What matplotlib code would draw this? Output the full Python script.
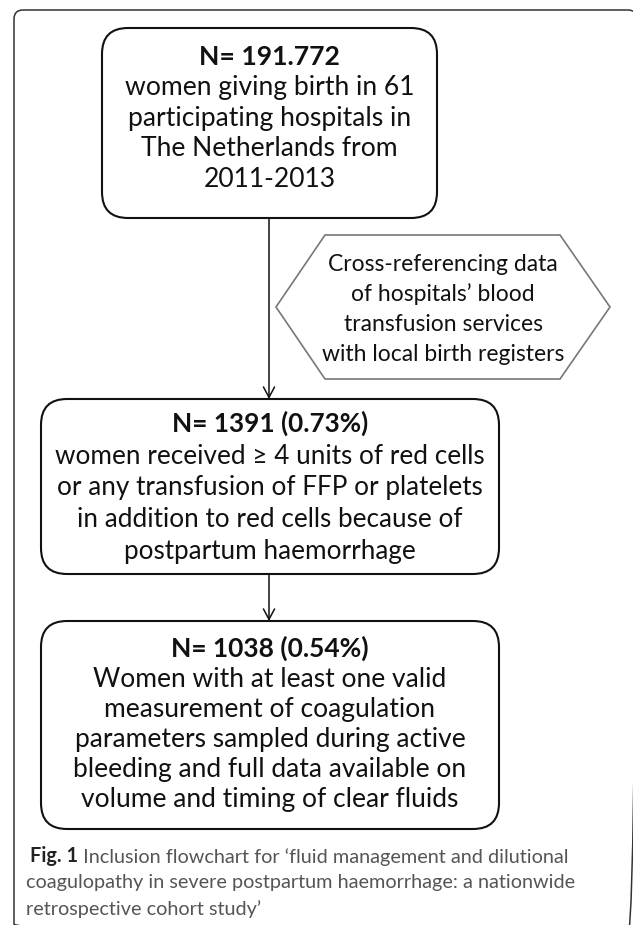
import matplotlib
matplotlib.use("Agg")
import matplotlib.pyplot as plt
from matplotlib.patches import FancyBboxPatch, Polygon, FancyArrowPatch

# ---- content ----
box1_title = "N= 191.772"
box1_lines = ["women giving birth in 61", "participating hospitals in",
              "The Netherlands from", "2011-2013"]
box2_title = "N= 1391 (0.73%)"
box2_lines = ["women received \u2265 4 units of red cells",
              "or any transfusion of FFP or platelets",
              "in addition to red cells because of",
              "postpartum haemorrhage"]
box3_title = "N= 1038 (0.54%)"
box3_lines = ["Women with at least one valid",
              "measurement of coagulation",
              "parameters sampled during active",
              "bleeding and full data available on",
              "volume and timing of clear fluids"]
hex_lines = ["Cross-referencing data", "of hospitals\u2019 blood",
             "transfusion services", "with local birth registers"]
caption_bold = "Fig. 1"
caption_lines = ["Inclusion flowchart for \u2018fluid management and dilutional",
                 "coagulopathy in severe postpartum haemorrhage: a nationwide",
                 "retrospective cohort study\u2019"]

W, H = 633, 925
FONT = "Lato"
fig = plt.figure(figsize=(W / 100, H / 100), dpi=100)
ax = fig.add_axes([0, 0, 1, 1])
ax.set_xlim(0, W)
ax.set_ylim(H, 0)
ax.axis("off")
renderer = fig.canvas.get_renderer()


def fit_size(text, target_px, weight="normal", family=FONT):
    t = ax.text(0, 0, text, fontsize=10, fontweight=weight, family=family)
    w = t.get_window_extent(renderer).width
    t.remove()
    return 10 * target_px / w


# outer frame (right and bottom sides run just past the image edge)
frame = FancyBboxPatch((14, 10), 623, 923, boxstyle="round,pad=0,rounding_size=9",
                       fc="none", ec="#333333", lw=1.1)
ax.add_patch(frame)


def rbox(x0, y0, x1, y1, title, lines, first_base, step, widest_px):
    ax.add_patch(FancyBboxPatch((x0, y0), x1 - x0, y1 - y0,
                                boxstyle="round,pad=0,rounding_size=26",
                                fc="white", ec="#111111", lw=1.5))
    cx = (x0 + x1) / 2
    widest = max(lines, key=len)
    fs = fit_size(widest, widest_px)
    ax.text(cx, first_base, title, ha="center", va="baseline", fontsize=fs,
            fontweight="bold", family=FONT, color="#111111")
    for i, ln in enumerate(lines):
        ax.text(cx, first_base + step * (i + 1), ln, ha="center", va="baseline",
                fontsize=fs, family=FONT, color="#111111")


rbox(102, 28, 437, 218, box1_title, box1_lines, 65, 30.5, 284)
rbox(41, 399, 499, 574, box2_title, box2_lines, 432, 31.7, 426)
rbox(41, 621, 499, 829, box3_title, box3_lines, 657, 30.0, 392)

# arrows
for ya, yb in [(218, 399), (574, 621)]:
    ax.add_patch(FancyArrowPatch((269, ya), (269, yb),
                                 arrowstyle="->,head_length=0.75,head_width=0.4",
                                 mutation_scale=10, shrinkA=0, shrinkB=0,
                                 color="#111111", lw=1.1))

# hexagon
hx = [276, 325, 560, 610, 560, 325]
hy = [307, 235, 235, 307, 379, 379]
ax.add_patch(Polygon(list(zip(hx, hy)), closed=True, fc="white",
                     ec="#777777", lw=1.2))
hfs = fit_size(max(hex_lines, key=len), 242)
for i, ln in enumerate(hex_lines):
    ax.text(443, 271 + 30 * i, ln, ha="center", va="baseline", fontsize=hfs,
            family=FONT, color="#111111")

# caption
cfs = fit_size(caption_lines[1], 551)
t1 = ax.text(30, 862, caption_bold, ha="left", va="baseline", fontsize=cfs,
             fontweight="bold", family=FONT, color="#222222")
ax.annotate(" " + caption_lines[0], xy=(1, 0), xycoords=t1, ha="left",
            va="bottom", fontsize=cfs, family=FONT, color="#555555")
for i, ln in enumerate(caption_lines[1:]):
    ax.text(26, 888 + 27.5 * i, ln, ha="left", va="baseline", fontsize=cfs,
            family=FONT, color="#555555")

fig.savefig("out.png", dpi=100, facecolor="white")
